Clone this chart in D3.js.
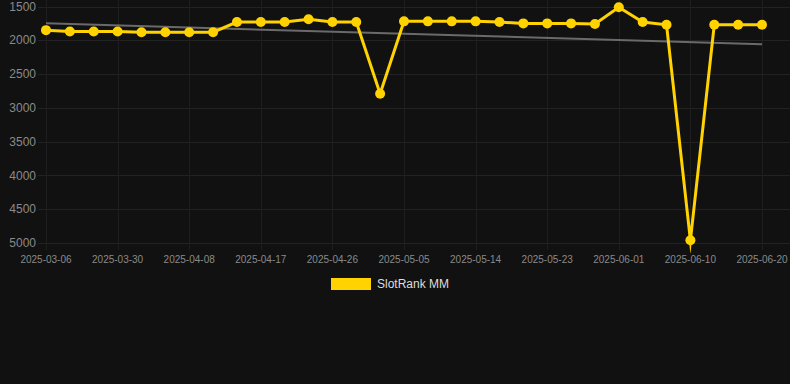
<!DOCTYPE html>
<html>
<head>
<meta charset="utf-8">
<script src="https://cdnjs.cloudflare.com/ajax/libs/d3/7.8.5/d3.min.js"></script>
<style>
    html, body { margin: 0; padding: 0; background: #111111; }
    svg { display: block; font-family: "Liberation Sans", Arial, Helvetica, sans-serif; }
</style>
</head>
<body>
<svg id="svg1" width="790" height="384"></svg>
<script>
    // dates on the category axis (only every 3rd one is labelled)
    var dates = ['2025-03-06', '2025-03-24', '2025-03-27', '2025-03-30', '2025-04-02', '2025-04-05', '2025-04-08',
        '2025-04-11', '2025-04-14', '2025-04-17', '2025-04-20', '2025-04-23', '2025-04-26', '2025-04-29',
        '2025-05-02', '2025-05-05', '2025-05-08', '2025-05-11', '2025-05-14', '2025-05-17', '2025-05-20',
        '2025-05-23', '2025-05-26', '2025-05-29', '2025-06-01', '2025-06-04', '2025-06-07', '2025-06-10',
        '2025-06-13', '2025-06-17', '2025-06-20'];
    // rank values (lower is better, axis is reversed)
    var ranks = [1850, 1870, 1870, 1870, 1880, 1880, 1880, 1880, 1730, 1730, 1730, 1690, 1730, 1730,
        2790, 1720, 1720, 1720, 1720, 1730, 1750, 1750, 1750, 1760, 1510, 1730, 1770, 4960, 1770, 1770, 1770];
    var yTicks = [1500, 2000, 2500, 3000, 3500, 4000, 4500, 5000];
    var seriesName = 'SlotRank MM';

    var svg = d3.select("#svg1"),
        width = +svg.attr("width"),
        height = +svg.attr("height");

    var gold = '#ffd200';

    var x = d3.scalePoint()
        .domain(d3.range(dates.length))
        .range([46, 762]);

    var y = d3.scaleLinear()
        .domain([1500, 5000])
        .range([6.5, 243]);

    // grid
    var grid = svg.append("g").attr("class", "grid");
    grid.selectAll("line.h")
        .data(yTicks)
        .enter().append("line")
        .attr("class", "h")
        .attr("x1", 38)
        .attr("x2", width)
        .attr("y1", function(d) { return Math.round(y(d)) + 0.5; })
        .attr("y2", function(d) { return Math.round(y(d)) + 0.5; })
        .attr("stroke", "#222222")
        .attr("stroke-width", 1);

    var labelled = d3.range(0, dates.length, 3);
    grid.selectAll("line.v")
        .data(labelled)
        .enter().append("line")
        .attr("class", "v")
        .attr("x1", function(d) { return Math.round(x(d)) + 0.5; })
        .attr("x2", function(d) { return Math.round(x(d)) + 0.5; })
        .attr("y1", 0)
        .attr("y2", 250)
        .attr("stroke", "#1e1e1e")
        .attr("stroke-width", 1);

    // y axis labels
    svg.append("g")
        .selectAll("text")
        .data(yTicks)
        .enter().append("text")
        .attr("x", 36)
        .attr("y", function(d) { return y(d); })
        .attr("dy", "0.35em")
        .attr("text-anchor", "end")
        .attr("font-size", 12)
        .attr("fill", "#8a8a8a")
        .text(function(d) { return d; });

    // x axis labels
    svg.append("g")
        .selectAll("text")
        .data(labelled)
        .enter().append("text")
        .attr("x", function(d) { return x(d); })
        .attr("y", 259)
        .attr("dy", "0.35em")
        .attr("text-anchor", "middle")
        .attr("font-size", 10)
        .attr("fill", "#8a8a8a")
        .text(function(d) { return dates[d]; });

    // trend line (least squares over the points)
    var n = ranks.length,
        mx = d3.mean(d3.range(n)),
        my = d3.mean(ranks);
    var num = d3.sum(ranks, function(v, i) { return (i - mx) * (v - my); }),
        den = d3.sum(d3.range(n), function(i) { return (i - mx) * (i - mx); });
    var slope = num / den,
        icpt = my - slope * mx;

    svg.append("line")
        .attr("x1", x(0))
        .attr("y1", y(icpt))
        .attr("x2", x(n - 1))
        .attr("y2", y(icpt + slope * (n - 1)))
        .attr("stroke", "#6a6a6a")
        .attr("stroke-width", 2);

    // series line
    var line = d3.line()
        .x(function(d, i) { return x(i); })
        .y(function(d) { return y(d); });

    svg.append("path")
        .datum(ranks)
        .attr("d", line)
        .attr("fill", "none")
        .attr("stroke", gold)
        .attr("stroke-width", 3)
        .attr("stroke-linejoin", "miter")
        .attr("stroke-miterlimit", 10);

    svg.append("g")
        .selectAll("circle")
        .data(ranks)
        .enter().append("circle")
        .attr("cx", function(d, i) { return x(i); })
        .attr("cy", function(d) { return y(d); })
        .attr("r", 5)
        .attr("fill", gold);

    // legend
    var legend = svg.append("g");
    legend.append("rect")
        .attr("x", 331)
        .attr("y", 278)
        .attr("width", 40)
        .attr("height", 12)
        .attr("fill", gold);
    legend.append("text")
        .attr("x", 377)
        .attr("y", 284)
        .attr("dy", "0.35em")
        .attr("font-size", 12)
        .attr("fill", "#dddddd")
        .text(seriesName);
</script>
</body>
</html>
